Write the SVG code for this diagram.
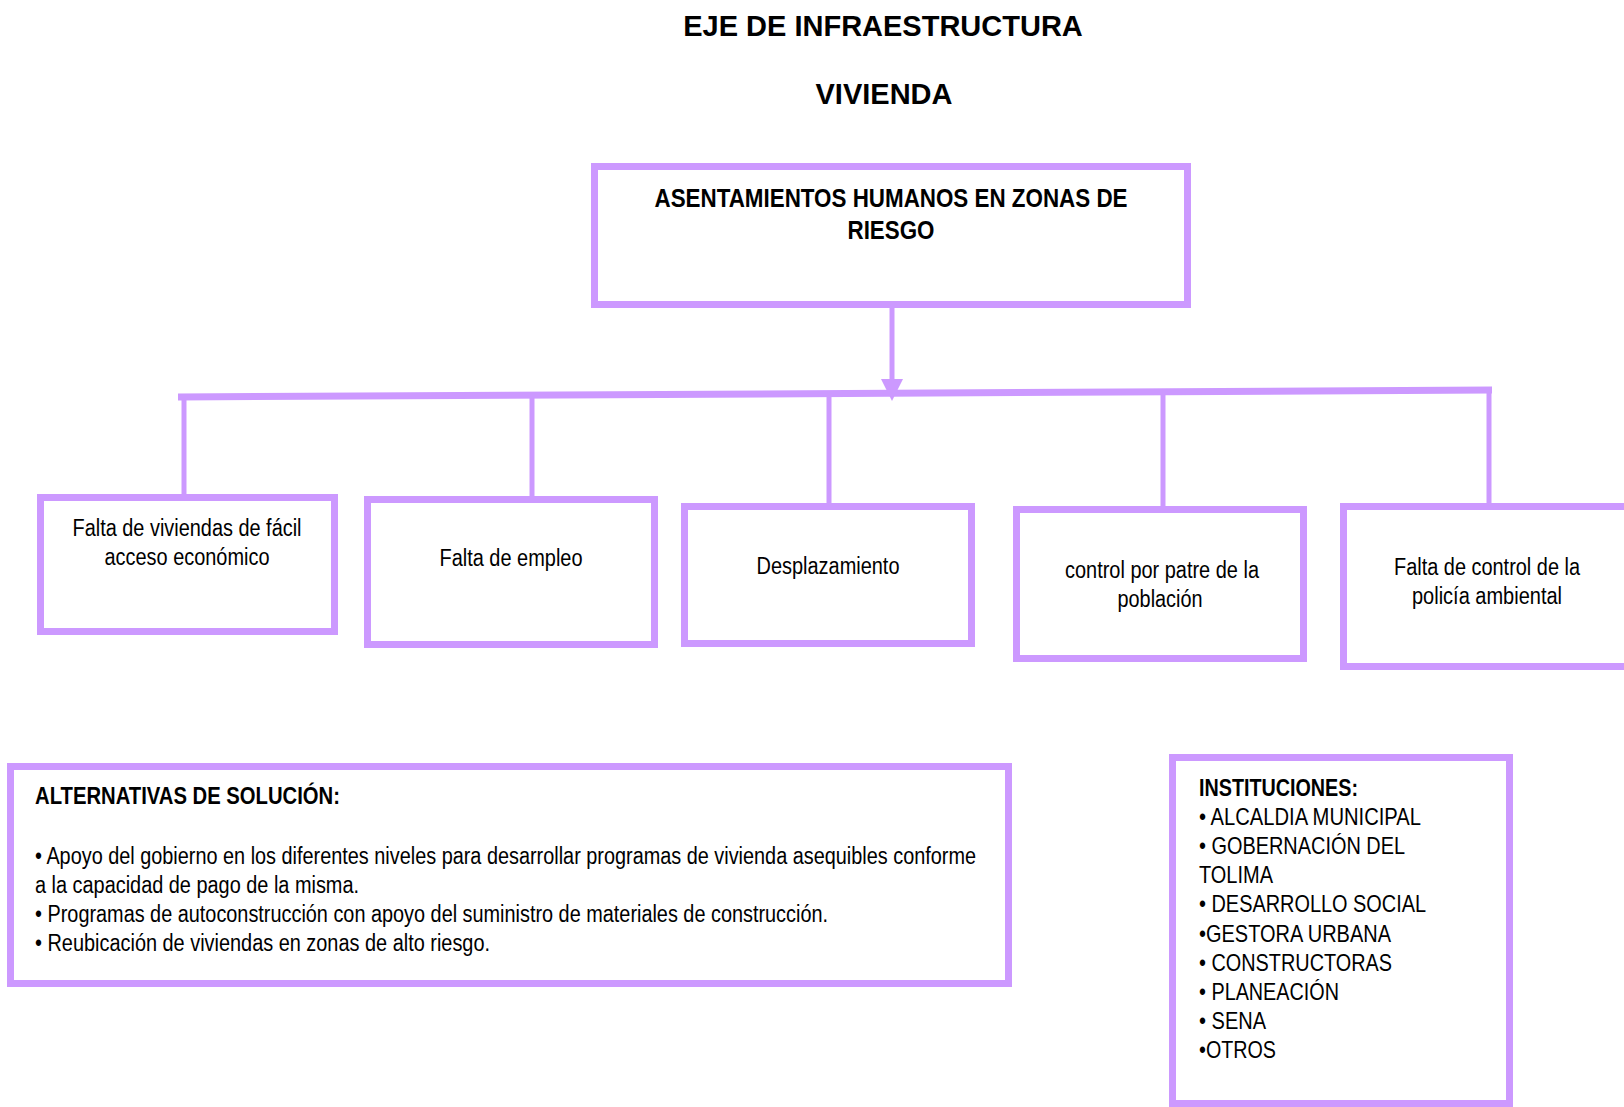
<svg xmlns="http://www.w3.org/2000/svg" width="1624" height="1107" viewBox="0 0 1624 1107">
<style>
.box{fill:#fff;stroke:#CC99FF;stroke-width:7}
.ln{stroke:#CC99FF;stroke-width:5;fill:none}
.t{font-family:"Liberation Sans Narrow","Liberation Sans",Arial,sans-serif;fill:#000}
.h{font-family:"Liberation Sans",Arial,sans-serif;font-weight:bold;font-size:29px;text-anchor:middle;fill:#000}
.c{text-anchor:middle;font-size:23px}
.b{font-weight:bold}
</style>
<rect width="1624" height="1107" fill="#fff"/>
<text class="h" x="883" y="36">EJE DE INFRAESTRUCTURA</text>
<text class="h" x="884" y="104">VIVIENDA</text>
<g id="connectors">
<line class="ln" x1="892" y1="308" x2="892" y2="382"/>
<polygon points="881,379 903,379 892,401" fill="#CC99FF"/>
<line x1="178" y1="397" x2="1492" y2="390" stroke="#CC99FF" stroke-width="7"/>
<line class="ln" x1="184" y1="397" x2="184" y2="497"/>
<line class="ln" x1="532" y1="396" x2="532" y2="504"/>
<line class="ln" x1="829" y1="394" x2="829" y2="506"/>
<line class="ln" x1="1163" y1="392" x2="1163" y2="509"/>
<line class="ln" x1="1489" y1="390" x2="1489" y2="506"/>
</g>
<g id="main">
<rect class="box" x="594.5" y="166.5" width="593" height="138"/>
<text class="t b" x="891" y="207" font-size="25" text-anchor="middle" textLength="473" lengthAdjust="spacingAndGlyphs">ASENTAMIENTOS HUMANOS EN ZONAS DE</text>
<text class="t b" x="891" y="239" font-size="25" text-anchor="middle" textLength="87" lengthAdjust="spacingAndGlyphs">RIESGO</text>
</g>
<g id="n1">
<rect class="box" x="40.5" y="497.5" width="294" height="134"/>
<text class="t c" x="187" y="536" textLength="229" lengthAdjust="spacingAndGlyphs">Falta de viviendas de fácil</text>
<text class="t c" x="187" y="565" textLength="165" lengthAdjust="spacingAndGlyphs">acceso económico</text>
</g>
<g id="n2">
<rect class="box" x="367.5" y="499.5" width="287" height="145"/>
<text class="t c" x="511" y="566" textLength="143" lengthAdjust="spacingAndGlyphs">Falta de empleo</text>
</g>
<g id="n3">
<rect class="box" x="684.5" y="506.5" width="287" height="137"/>
<text class="t c" x="828" y="574" textLength="143" lengthAdjust="spacingAndGlyphs">Desplazamiento</text>
</g>
<g id="n4">
<rect class="box" x="1016.5" y="509.5" width="287" height="149"/>
<text class="t c" x="1162" y="578" textLength="194" lengthAdjust="spacingAndGlyphs">control por patre de la</text>
<text class="t c" x="1160" y="607" textLength="85" lengthAdjust="spacingAndGlyphs">población</text>
</g>
<g id="n5">
<rect class="box" x="1343.5" y="506.5" width="300" height="160"/>
<text class="t c" x="1487" y="575" textLength="186" lengthAdjust="spacingAndGlyphs">Falta de control de la</text>
<text class="t c" x="1487" y="604" textLength="150" lengthAdjust="spacingAndGlyphs">policía ambiental</text>
</g>
<g id="alternativas">
<rect class="box" x="10.5" y="766.5" width="998" height="217"/>
<text class="t b" x="35" y="804" font-size="24" textLength="305" lengthAdjust="spacingAndGlyphs">ALTERNATIVAS DE SOLUCIÓN:</text>
<text class="t" x="35" y="864" font-size="23" textLength="941" lengthAdjust="spacingAndGlyphs">• Apoyo del gobierno en los diferentes niveles para desarrollar programas de vivienda asequibles conforme</text>
<text class="t" x="35" y="893" font-size="23" textLength="324" lengthAdjust="spacingAndGlyphs">a la capacidad de pago de la misma.</text>
<text class="t" x="35" y="922" font-size="23" textLength="793" lengthAdjust="spacingAndGlyphs">• Programas de autoconstrucción con apoyo del suministro de materiales de construcción.</text>
<text class="t" x="35" y="951" font-size="23" textLength="455" lengthAdjust="spacingAndGlyphs">• Reubicación de viviendas en zonas de alto riesgo.</text>
</g>
<g id="instituciones">
<rect class="box" x="1172.5" y="757.5" width="337" height="346"/>
<text class="t b" x="1199" y="796" font-size="24" textLength="159" lengthAdjust="spacingAndGlyphs">INSTITUCIONES:</text>
<text class="t" x="1199" y="825" font-size="24" textLength="222" lengthAdjust="spacingAndGlyphs">• ALCALDIA MUNICIPAL</text>
<text class="t" x="1199" y="854" font-size="24" textLength="206" lengthAdjust="spacingAndGlyphs">• GOBERNACIÓN DEL</text>
<text class="t" x="1199" y="883" font-size="24" textLength="74" lengthAdjust="spacingAndGlyphs">TOLIMA</text>
<text class="t" x="1199" y="912" font-size="24" textLength="227" lengthAdjust="spacingAndGlyphs">• DESARROLLO SOCIAL</text>
<text class="t" x="1199" y="942" font-size="24" textLength="192" lengthAdjust="spacingAndGlyphs">•GESTORA URBANA</text>
<text class="t" x="1199" y="971" font-size="24" textLength="193" lengthAdjust="spacingAndGlyphs">• CONSTRUCTORAS</text>
<text class="t" x="1199" y="1000" font-size="24" textLength="140" lengthAdjust="spacingAndGlyphs">• PLANEACIÓN</text>
<text class="t" x="1199" y="1029" font-size="24" textLength="67" lengthAdjust="spacingAndGlyphs">• SENA</text>
<text class="t" x="1199" y="1058" font-size="24" textLength="77" lengthAdjust="spacingAndGlyphs">•OTROS</text>
</g>
</svg>
